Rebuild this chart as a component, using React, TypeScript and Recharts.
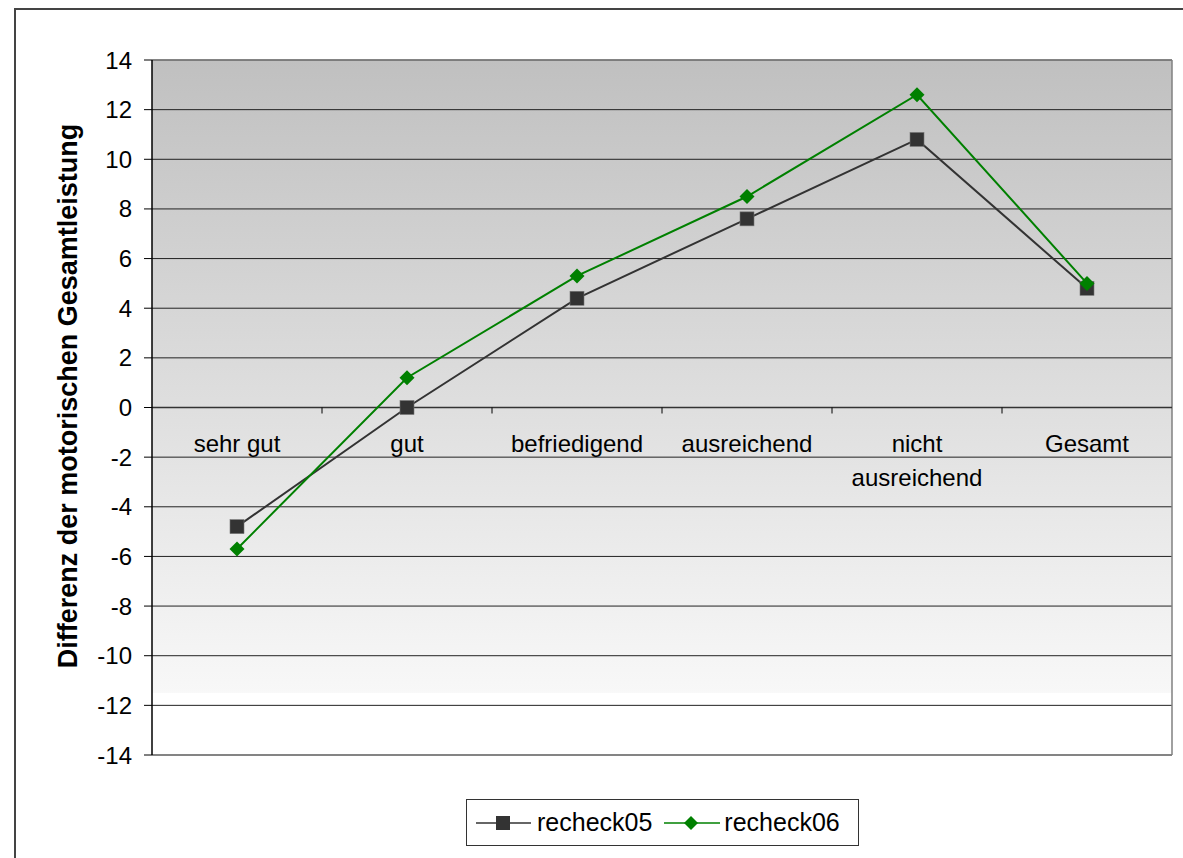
import React from 'react';
import { LineChart, Line, XAxis, YAxis, CartesianGrid, ReferenceLine } from 'recharts';

const categories = ['sehr gut', 'gut', 'befriedigend', 'ausreichend', 'nicht ausreichend', 'Gesamt'];
const recheck05 = [-4.8, 0, 4.4, 7.6, 10.8, 4.8];
const recheck06 = [-5.7, 1.2, 5.3, 8.5, 12.6, 5.0];
const yTicks = [-14, -12, -10, -8, -6, -4, -2, 0, 2, 4, 6, 8, 10, 12, 14];

const data = categories.map((name, i) => ({ name, recheck05: recheck05[i], recheck06: recheck06[i] }));

// plot geometry
const W = 1183;
const H = 858;
const TOP = 60;
const LEFT = 152;
const RIGHT = 1172;
const PLOT_H = 695;
const ZERO_Y = TOP + PLOT_H / 2;
const BAND = 170;
const FONT = '"Liberation Sans", Arial, sans-serif';

const SquareDot = (props: any) => {
  const { cx, cy } = props;
  if (cx == null || cy == null) return null;
  return <rect x={cx - 7} y={cy - 7} width={14} height={14} fill="#333333" stroke="#777" strokeWidth={0.6} />;
};

const DiamondDot = (props: any) => {
  const { cx, cy } = props;
  if (cx == null || cy == null) return null;
  return <polygon points={`${cx},${cy - 7.5} ${cx + 7.5},${cy} ${cx},${cy + 7.5} ${cx - 7.5},${cy}`} fill="#008000" />;
};

const CategoryTick = (props: any) => {
  const { x, payload, index } = props;
  const label: string = payload.value;
  // long labels wrap onto two lines like in the band
  const lines = label.length > 12 && label.includes(' ') ? label.split(' ') : [label];
  return (
    <g>
      {index < categories.length - 1 && (
        <line x1={x + BAND / 2} x2={x + BAND / 2} y1={ZERO_Y} y2={ZERO_Y + 6} stroke="#000" />
      )}
      <text x={x} y={452} textAnchor="middle" fontSize={24} fontFamily={FONT} fill="#000">
        {lines.map((l, i) => (
          <tspan key={i} x={x} dy={i === 0 ? 0 : 34}>{l}</tspan>
        ))}
      </text>
    </g>
  );
};

const Legend = () => (
  <div style={{
    position: 'absolute', left: 466, top: 799, width: 393, height: 47, border: '1px solid #333',
    boxSizing: 'border-box', display: 'flex', alignItems: 'center', fontFamily: FONT, fontSize: 25,
    background: '#fff',
  }}>
    <svg width={55} height={16} style={{ marginLeft: 9, flexShrink: 0 }}>
      <line x1={0} x2={55} y1={8} y2={8} stroke="#333" strokeWidth={1.5} />
      <rect x={20} y={1} width={14} height={14} fill="#333" />
    </svg>
    <span style={{ marginLeft: 6 }}>recheck05</span>
    <svg width={56} height={16} style={{ marginLeft: 12, flexShrink: 0 }}>
      <line x1={0} x2={56} y1={8} y2={8} stroke="#008000" strokeWidth={1.5} />
      <polygon points="27,1 34,8 27,15 20,8" fill="#008000" />
    </svg>
    <span style={{ marginLeft: 4 }}>recheck06</span>
  </div>
);

export default function App() {
  return (
    <div style={{ position: 'absolute', left: 0, top: 0, width: W, height: H, overflow: 'hidden', background: '#fff' }}>
      <div style={{ position: 'absolute', left: 14, top: 8, width: 1200, height: 900, border: '2px solid #444' }} />
      <div style={{ position: 'absolute', left: 0, top: 0 }}>
        <LineChart width={W} height={H} data={data} margin={{ top: TOP, left: LEFT - 60, right: W - RIGHT, bottom: 73 }}>
          <defs>
            <linearGradient id="plotBg" x1="0" y1="0" x2="0" y2="1">
              <stop offset="0" stopColor="#c0c0c0" />
              <stop offset="0.91" stopColor="#f8f8f8" />
              <stop offset="0.911" stopColor="#ffffff" />
              <stop offset="1" stopColor="#ffffff" />
            </linearGradient>
          </defs>
          <CartesianGrid vertical={false} stroke="#222" fill="url(#plotBg)" fillOpacity={1} />
          {/* grey frame of the plot area */}
          <CartesianGrid horizontal={false} verticalPoints={[RIGHT]} stroke="#808080" strokeWidth={1.5} />
          <CartesianGrid vertical={false} horizontalPoints={[TOP, TOP + PLOT_H]} stroke="#808080" strokeWidth={1.5} />
          <XAxis dataKey="name" height={30} axisLine={false} tickLine={false} tick={<CategoryTick />} interval={0}
            padding={{ left: BAND / 2, right: BAND / 2 }} />
          <YAxis width={60} domain={[-14, 14]} ticks={yTicks} interval={0} axisLine={{ stroke: '#000', strokeWidth: 1.5 }}
            tickLine={{ stroke: '#000' }} tickSize={8} tickMargin={12}
            tick={{ fontSize: 24, fontFamily: FONT, fill: '#000' }}
            label={{
              content: () => (
                <text x={68} y={396} transform={`rotate(-90, 68, 396)`} textAnchor="middle"
                  dominantBaseline="central" fontSize={27} fontWeight="bold" fontFamily={FONT} fill="#000">
                  Differenz der motorischen Gesamtleistung
                </text>
              ),
            }} />
          <ReferenceLine y={0} stroke="#333" strokeWidth={1.5} />
          <Line dataKey="recheck05" stroke="#333333" strokeWidth={2} dot={<SquareDot />} isAnimationActive={false} />
          <Line dataKey="recheck06" stroke="#008000" strokeWidth={2} dot={<DiamondDot />} isAnimationActive={false} />
        </LineChart>
      </div>
      <Legend />
    </div>
  );
}
